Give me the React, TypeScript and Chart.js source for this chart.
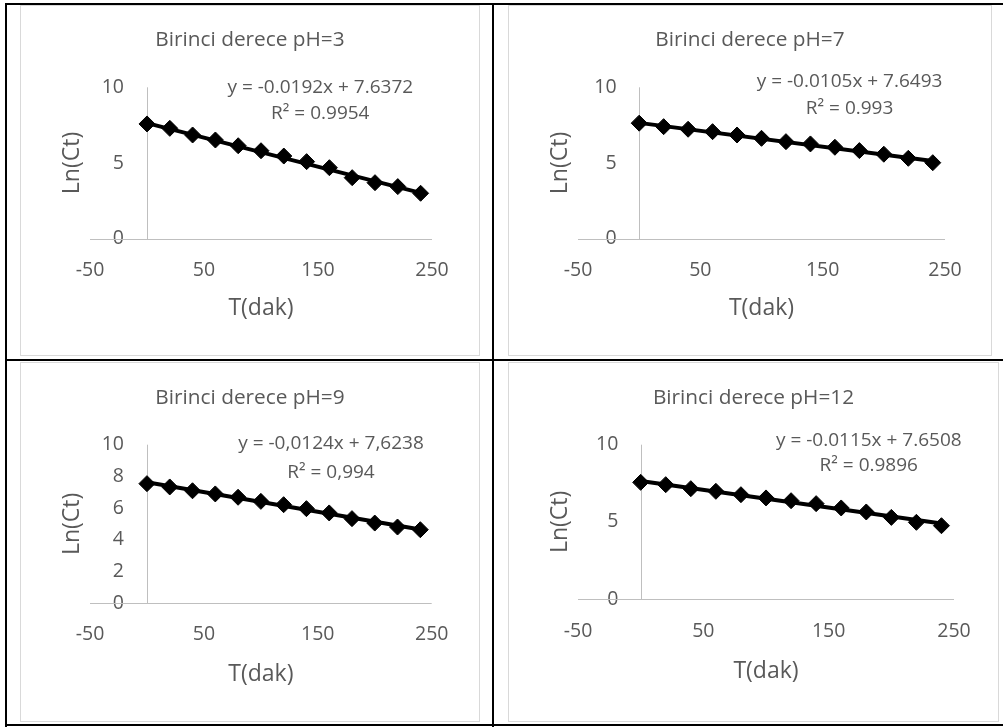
import React, { useEffect, useRef } from 'react';
import { Chart, registerables } from 'chart.js';

Chart.register(...registerables);

// ---------- data ----------
const timesMin = [0, 20, 40, 60, 80, 100, 120, 140, 160, 180, 200, 220, 240];
const lnCtPH3 = [7.58, 7.29, 6.85, 6.52, 6.14, 5.81, 5.46, 5.09, 4.69, 4.03, 3.7, 3.44, 3.0];
const lnCtPH7 = [7.63, 7.4, 7.23, 7.07, 6.85, 6.63, 6.41, 6.26, 6.04, 5.82, 5.58, 5.31, 5.02];
const lnCtPH9 = [7.54, 7.33, 7.09, 6.89, 6.68, 6.42, 6.21, 5.96, 5.69, 5.33, 5.05, 4.8, 4.63];
const lnCtPH12 = [7.56, 7.41, 7.15, 6.98, 6.76, 6.55, 6.37, 6.18, 5.9, 5.64, 5.29, 4.97, 4.75];

const chartTitles = ['Birinci derece pH=3', 'Birinci derece pH=7', 'Birinci derece pH=9', 'Birinci derece pH=12'];
const trendSlopes = [-0.0192, -0.0105, -0.0124, -0.0115];
const trendIntercepts = [7.6372, 7.6493, 7.6238, 7.6508];
const equationTexts = ['y = -0.0192x + 7.6372', 'y = -0.0105x + 7.6493', 'y = -0,0124x + 7,6238', 'y = -0.0115x + 7.6508'];
const r2Texts = ['R² = 0.9954', 'R² = 0.993', 'R² = 0,994', 'R² = 0.9896'];
const xAxisTitle = 'T(dak)';
const yAxisTitle = 'Ln(Ct)';
const xMin = -50;
const xMax = 250;
const xStep = 100;
const yMin = 0;
const yMax = 10;
const yStepSizes = [5, 5, 2, 5];
const yTickLabelsPerPanel = [['0', '5', '10'], ['0', '5', '10'], ['0', '2', '4', '6', '8', '10'], ['0', '5', '10']];
const seriesList = [lnCtPH3, lnCtPH7, lnCtPH9, lnCtPH12];

// ---------- layout / style ----------
const FONT = "'Open Sans', sans-serif";
const TEXT = '#595959';
const AXIS = '#bfbfbf';

const panels = [
  { left: 20, top: 5, width: 460, height: 351, plotLeft: 70, rightM: 48, plotTop: 82.3, bottomM: 117.3, labelRight: 104, titleC: 35, xTitleOff: 47.7, xTickC: 31.3, eqX: 152, eqY: 10.0, r2Y: 8.28 },
  { left: 508, top: 5, width: 484, height: 351, plotLeft: 70, rightM: 47, plotTop: 82.3, bottomM: 117.3, labelRight: 108.6, titleC: 35, xTitleOff: 47.7, xTickC: 31.3, eqX: 172, eqY: 10.37, r2Y: 8.61 },
  { left: 20, top: 362, width: 460, height: 360, plotLeft: 70, rightM: 48.3, plotTop: 82.7, bottomM: 119, labelRight: 104, titleC: 36, xTitleOff: 47.3, xTickC: 31.7, eqX: 161.6, eqY: 10.04, r2Y: 8.21 },
  { left: 508, top: 362, width: 491, height: 360, plotLeft: 70, rightM: 45, plotTop: 82.7, bottomM: 123, labelRight: 110.3, titleC: 36, xTitleOff: 50.7, xTickC: 32.3, eqX: 182, eqY: 10.28, r2Y: 8.64 },
];

const TITLE_SIZE = 20.8;
const TICK_SIZE = 19.5;
const AXIS_TITLE_SIZE = 23;
const EQ_SIZE = 19;

const extrasPlugin = {
  id: 'excelExtras',
  beforeDatasetsDraw(chart: any) {
    const { ctx, scales } = chart;
    const x = scales.x;
    const y = scales.y;
    const x0 = Math.round(x.getPixelForValue(0)) + 0.5;
    const y0 = Math.round(y.getPixelForValue(0)) + 0.5;
    ctx.save();
    ctx.strokeStyle = AXIS;
    ctx.lineWidth = 1;
    ctx.beginPath();
    ctx.moveTo(x0, y.getPixelForValue(y.max));
    ctx.lineTo(x0, y0);
    ctx.moveTo(x.left, y0);
    ctx.lineTo(x.right, y0);
    ctx.stroke();
    ctx.restore();
  },
  afterDatasetsDraw(chart: any, _args: any, opts: any) {
    const { ctx, scales } = chart;
    const x = scales.x;
    const y = scales.y;
    ctx.save();
    ctx.fillStyle = TEXT;
    ctx.font = `${EQ_SIZE}px ${FONT}`;
    ctx.textAlign = 'center';
    ctx.textBaseline = 'middle';
    const cx = x.getPixelForValue(opts.eqX);
    ctx.fillText(opts.eq, cx, y.getPixelForValue(opts.eqY));
    ctx.fillText(opts.r2, cx, y.getPixelForValue(opts.r2Y));
    ctx.restore();
  },
};

function Panel({ idx }: { idx: number }) {
  const ref = useRef<HTMLCanvasElement>(null);
  const p = panels[idx];
  useEffect(() => {
    if (!ref.current) return;
    const values = seriesList[idx];
    const points = timesMin.map((t, i) => ({ x: t, y: values[i] }));
    const tFirst = timesMin[0];
    const tLast = timesMin[timesMin.length - 1];
    const trend = [
      { x: tFirst, y: trendIntercepts[idx] + trendSlopes[idx] * tFirst },
      { x: tLast, y: trendIntercepts[idx] + trendSlopes[idx] * tLast },
    ];
    // measure widest y label to right-align mirrored labels at the desired spot
    const mctx = document.createElement('canvas').getContext('2d')!;
    mctx.font = `${TICK_SIZE}px ${FONT}`;
    const widest = Math.max(...yTickLabelsPerPanel[idx].map((s) => mctx.measureText(s).width));
    const yPad = p.labelRight - p.plotLeft - widest;

    const titleLH = TITLE_SIZE * 1.2;
    const titlePadTop = p.titleC - titleLH / 2;
    const titlePadBottom = p.plotTop - titlePadTop - titleLH;
    const axisLH = AXIS_TITLE_SIZE * 1.2;
    const tickLH = TICK_SIZE * 1.2;
    const chart = new Chart(ref.current, {
      type: 'scatter',
      data: {
        datasets: [
          {
            type: 'line',
            data: trend,
            borderColor: '#000000',
            borderWidth: 4,
            pointRadius: 0,
            fill: false,
            order: 2,
          } as any,
          {
            data: points,
            backgroundColor: '#000000',
            borderColor: '#000000',
            borderWidth: 1,
            pointStyle: 'rectRot',
            pointRadius: 8,
            order: 1,
          },
        ],
      },
      options: {
        responsive: false,
        animation: false,
        devicePixelRatio: 1,
        layout: { padding: 0 },
        plugins: {
          legend: { display: false },
          tooltip: { enabled: false },
          title: {
            display: true,
            text: chartTitles[idx],
            color: TEXT,
            font: { family: FONT, size: TITLE_SIZE, weight: 'normal' },
            padding: { top: titlePadTop, bottom: titlePadBottom },
          },
          excelExtras: { eq: equationTexts[idx], r2: r2Texts[idx], eqX: p.eqX, eqY: p.eqY, r2Y: p.r2Y },
        } as any,
        scales: {
          x: {
            type: 'linear',
            position: 'bottom',
            min: xMin,
            max: xMax,
            ticks: {
              stepSize: xStep,
              color: TEXT,
              font: { family: FONT, size: TICK_SIZE },
              padding: p.xTickC - tickLH / 2,
              maxRotation: 0,
            },
            grid: { display: false, drawTicks: false },
            border: { display: false },
            title: {
              display: true,
              text: xAxisTitle,
              color: TEXT,
              font: { family: FONT, size: AXIS_TITLE_SIZE },
              padding: { top: 0, bottom: p.xTitleOff - axisLH / 2 },
            },
            afterFit: (s: any) => {
              s.height = p.bottomM;
            },
          },
          y: {
            type: 'linear',
            position: 'left',
            min: yMin,
            max: yMax,
            ticks: {
              stepSize: yStepSizes[idx],
              color: TEXT,
              font: { family: FONT, size: TICK_SIZE },
              mirror: true,
              crossAlign: 'far',
              padding: yPad,
            },
            grid: { display: false, drawTicks: false },
            border: { display: false },
            title: {
              display: true,
              text: yAxisTitle,
              color: TEXT,
              font: { family: FONT, size: AXIS_TITLE_SIZE },
              padding: { top: 52.7 - axisLH / 2, bottom: 0 },
            },
            afterFit: (s: any) => {
              s.width = p.plotLeft;
            },
          },
          spacerRight: {
            type: 'linear',
            position: 'right',
            display: true,
            ticks: { display: false },
            grid: { display: false, drawTicks: false },
            border: { display: false },
            afterFit: (s: any) => {
              s.width = p.rightM;
            },
          },
        },
      },
      plugins: [extrasPlugin],
    });
    return () => chart.destroy();
  }, [idx]);
  return (
    <div style={{ position: 'absolute', left: p.left, top: p.top, width: p.width, height: p.height }}>
      <canvas ref={ref} width={p.width} height={p.height} style={{ position: 'absolute', left: 0, top: 0 }} />
      <div
        style={{
          position: 'absolute',
          left: 0,
          top: 0,
          width: p.width,
          height: p.height,
          boxSizing: 'border-box',
          border: '1.5px solid #d9d9d9',
          pointerEvents: 'none',
        }}
      />
    </div>
  );
}

const line = (l: number, t: number, w: number, h: number) => (
  <div style={{ position: 'absolute', left: l, top: t, width: w, height: h, background: '#000' }} />
);

export default function App() {
  return (
    <div style={{ position: 'absolute', left: 0, top: 0, width: 1006, height: 727, background: '#fff', overflow: 'hidden' }}>
      {[0, 1, 2, 3].map((i) => (
        <Panel key={i} idx={i} />
      ))}
      {line(5, 3, 998, 2)}
      {line(5, 3, 2, 724)}
      {line(492, 3, 2, 724)}
      {line(5, 359, 998, 2)}
      {line(5, 724, 998, 2)}
    </div>
  );
}
